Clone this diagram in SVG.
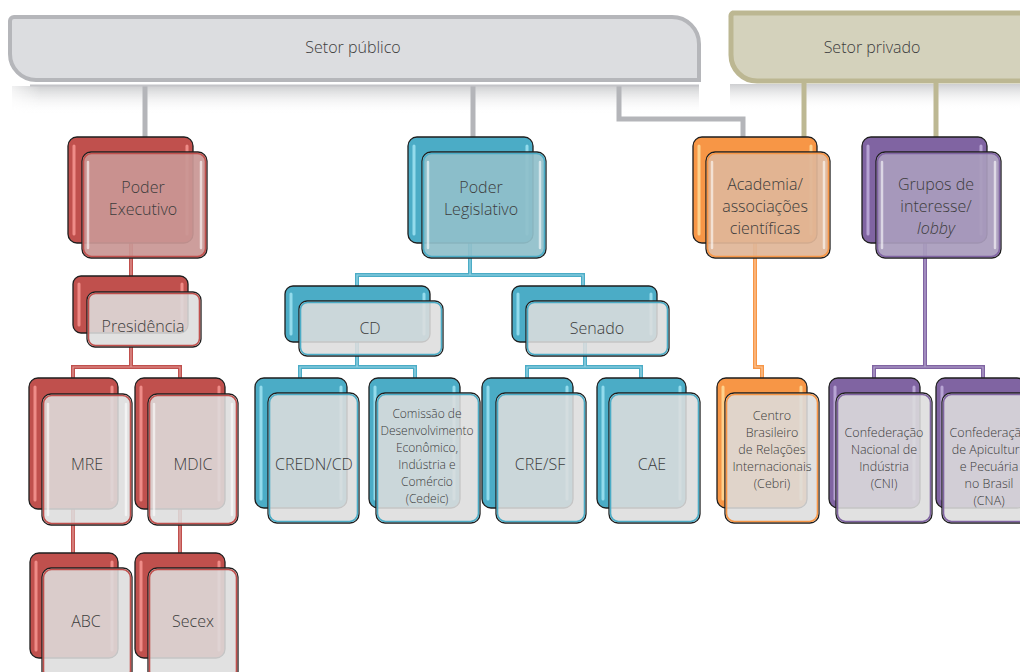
<svg xmlns="http://www.w3.org/2000/svg" width="1020" height="672" viewBox="0 0 1020 672">
<defs>
<linearGradient id="shadowG" x1="0" y1="0" x2="0" y2="1">
<stop offset="0" stop-color="#b9babd" stop-opacity="0.7"/>
<stop offset="1" stop-color="#ffffff" stop-opacity="0"/>
</linearGradient>
<linearGradient id="shadowH" x1="0" y1="0" x2="1" y2="0">
<stop offset="0" stop-color="#fff" stop-opacity="0"/>
<stop offset="0.04" stop-color="#fff" stop-opacity="1"/>
<stop offset="1" stop-color="#fff" stop-opacity="1"/>
</linearGradient>
<mask id="shMask"><rect x="0" y="0" width="1020" height="672" fill="url(#shadowH)"/></mask>
</defs>
<style>
text{font-family:"Open Sans","Liberation Sans",sans-serif;font-weight:300;fill:#3c3c3c;text-anchor:middle}
.t16{font-size:16px}
.t13{font-size:12.5px}
.t12{font-size:12px}
.back{stroke:#1e1e1e;stroke-width:1.3}
.front{stroke:#1e1e1e;stroke-width:1.3}
.inner{fill:none;stroke-width:1.6}
.fhl{stroke:#ffffff;stroke-opacity:0.6;stroke-width:2.5;stroke-linecap:round}
.bhl{stroke-width:3;stroke-linecap:round}
.red .back{fill:#c0504d}.red .inner{stroke:#c0504d}.red .bhl{stroke:#ef8c88}
.teal .back{fill:#4bacc6}.teal .inner{stroke:#4bacc6}.teal .bhl{stroke:#93dbec}
.orange .back{fill:#f79646}.orange .inner{stroke:#f79646}.orange .bhl{stroke:#fdd28e}
.purple .back{fill:#8064a2}.purple .inner{stroke:#8064a2}.purple .bhl{stroke:#b7a4d3}
.low .front{fill:#dddddd;fill-opacity:0.88}
.red.top .front{fill:#c99795;fill-opacity:0.93}
.teal.top .front{fill:#90bfca;fill-opacity:0.93}
.orange.top .front{fill:#e0b698;fill-opacity:0.93}
.purple.top .front{fill:#a99cbc;fill-opacity:0.93}
.cg{fill:none;stroke:#b4b5b9;stroke-width:5}
.cp{fill:none;stroke:#bdb893;stroke-width:5}
.cl{fill:none;stroke-width:4}
.cc{fill:none;stroke-width:1.2}
</style>

<!-- banner shadows -->
<rect x="12" y="86" width="687" height="28" fill="url(#shadowG)" mask="url(#shMask)"/>
<rect x="730" y="84" width="290" height="26" fill="url(#shadowG)"/>

<g id="connectors">
<path class="cg" d="M145,86V137M473,86V137M619,86V119H743V137"/>
<path class="cp" d="M804,82V137M936,82V137"/>
<g stroke="#c0504d"><path class="cl" d="M131,243V276M131,347V367M73,378V367H180V378M73,509V553M180,509V553"/></g>
<g stroke="#e39a97"><path class="cc" d="M131,243V276M131,347V367M73,378V367H180V378M73,509V553M180,509V553"/></g>
<g stroke="#4bacc6"><path class="cl" d="M470,243V275M357,286V275H583V286M357,342V367M300,378V367H415V378M585,342V367M527,378V367H641V378"/></g>
<g stroke="#9bd6e6"><path class="cc" d="M470,243V275M357,286V275H583V286M357,342V367M300,378V367H415V378M585,342V367M527,378V367H641V378"/></g>
<g stroke="#f79646"><path class="cl" d="M755,243V367H762V378"/></g>
<g stroke="#fcc79a"><path class="cc" d="M755,243V367H762V378"/></g>
<g stroke="#8064a2"><path class="cl" d="M925,243V367M874,378V367H983V378"/></g>
<g stroke="#b6a6d0"><path class="cc" d="M925,243V367M874,378V367H983V378"/></g>
</g>

<g id="setor-publico">
<path d="M14,17H672A27,27 0 0 1 699,44V80H36A26,26 0 0 1 10,54V21A4,4 0 0 1 14,17Z" fill="#dcdde0" stroke="#b5b6ba" stroke-width="4"/>
<path d="M30,85.5H699" stroke="#c3c4c8" stroke-width="2"/>
<text class="t16" x="353" y="53">Setor público</text>
</g>

<g id="setor-privado">
<path d="M733,13H1040V81H757A26,26 0 0 1 731,55V17A4,4 0 0 1 733,13Z" fill="#d4d2bc" stroke="#bcb792" stroke-width="5"/>
<text class="t16" x="872" y="53">Setor privado</text>
</g>

<g id="poder-executivo" class="red top">
<rect class="back" x="68" y="137" width="125" height="106" rx="9"/>
<path class="bhl" d="M74,146V234M187,146V234"/>
<rect class="front" x="82" y="152" width="125" height="106" rx="9"/>
<rect class="inner" x="83.5" y="153.5" width="122" height="103" rx="8"/>
<path class="fhl" d="M88,162V248M201,162V248"/>
<text class="t16" x="143" y="193">Poder</text>
<text class="t16" x="143" y="215">Executivo</text>
</g>

<g id="poder-legislativo" class="teal top">
<rect class="back" x="408" y="137" width="125" height="106" rx="9"/>
<path class="bhl" d="M414,146V234M527,146V234"/>
<rect class="front" x="422" y="152" width="124" height="106" rx="9"/>
<rect class="inner" x="423.5" y="153.5" width="121" height="103" rx="8"/>
<path class="fhl" d="M428,162V248M540,162V248"/>
<text class="t16" x="481" y="193">Poder</text>
<text class="t16" x="481" y="215">Legislativo</text>
</g>

<g id="academia" class="orange top">
<rect class="back" x="693" y="137" width="124" height="106" rx="9"/>
<path class="bhl" d="M699,146V234M811,146V234"/>
<rect class="front" x="706" y="152" width="124" height="106" rx="9"/>
<rect class="inner" x="707.5" y="153.5" width="121" height="103" rx="8"/>
<path class="fhl" d="M712,162V248M824,162V248"/>
<text class="t16" x="765" y="190">Academia/</text>
<text class="t16" x="765" y="212">associações</text>
<text class="t16" x="765" y="234">científicas</text>
</g>

<g id="grupos-interesse" class="purple top">
<rect class="back" x="862" y="137" width="125" height="106" rx="9"/>
<path class="bhl" d="M868,146V234M981,146V234"/>
<rect class="front" x="876" y="152" width="125" height="106" rx="9"/>
<rect class="inner" x="877.5" y="153.5" width="122" height="103" rx="8"/>
<path class="fhl" d="M882,162V248M995,162V248"/>
<text class="t16" x="936" y="190">Grupos de</text>
<text class="t16" x="936" y="212">interesse/</text>
<text class="t16" x="936" y="234" font-style="italic">lobby</text>
</g>

<g id="presidencia" class="red low">
<rect class="back" x="73" y="276" width="115" height="57" rx="8"/>
<path class="bhl" d="M79,284V325M182,284V325"/>
<rect class="front" x="87" y="292" width="114" height="55" rx="8"/>
<rect class="inner" x="88.5" y="293.5" width="111" height="52" rx="7"/>
<text class="t16" x="143" y="332">Presidência</text>
</g>

<g id="cd" class="teal low">
<rect class="back" x="285" y="286" width="145" height="56" rx="8"/>
<path class="bhl" d="M291,294V334M424,294V334"/>
<rect class="front" x="299" y="301" width="144" height="55" rx="8"/>
<rect class="inner" x="300.5" y="302.5" width="141" height="52" rx="7"/>
<text class="t16" x="370" y="334">CD</text>
</g>

<g id="senado" class="teal low">
<rect class="back" x="512" y="286" width="145" height="56" rx="8"/>
<path class="bhl" d="M518,294V334M651,294V334"/>
<rect class="front" x="526" y="301" width="143" height="55" rx="8"/>
<rect class="inner" x="527.5" y="302.5" width="140" height="52" rx="7"/>
<text class="t16" x="597" y="334">Senado</text>
</g>

<g id="mre" class="red low">
<rect class="back" x="29" y="378" width="89" height="131" rx="9"/>
<path class="bhl" d="M35,387V500M112,387V500"/>
<rect class="front" x="42" y="394" width="90" height="131" rx="9"/>
<rect class="inner" x="43.5" y="395.5" width="87" height="128" rx="8"/>
<path class="fhl" d="M48,404V515M126,404V515" stroke-opacity="0.4"/>
<text class="t16" x="87" y="470">MRE</text>
</g>

<g id="mdic" class="red low">
<rect class="back" x="135" y="378" width="90" height="131" rx="9"/>
<path class="bhl" d="M141,387V500M219,387V500"/>
<rect class="front" x="148" y="394" width="90" height="131" rx="9"/>
<rect class="inner" x="149.5" y="395.5" width="87" height="128" rx="8"/>
<path class="fhl" d="M154,404V515M232,404V515" stroke-opacity="0.4"/>
<text class="t16" x="193" y="470">MDIC</text>
</g>

<g id="abc" class="red low">
<rect class="back" x="30" y="553" width="88" height="105" rx="9"/>
<path class="bhl" d="M36,562V650M112,562V650"/>
<rect class="front" x="42" y="568" width="90" height="112" rx="9"/>
<rect class="inner" x="43.5" y="569.5" width="87" height="109" rx="8"/>
<text class="t16" x="86" y="627">ABC</text>
</g>

<g id="secex" class="red low">
<rect class="back" x="135" y="553" width="90" height="105" rx="9"/>
<path class="bhl" d="M141,562V650M219,562V650"/>
<rect class="front" x="148" y="568" width="90" height="112" rx="9"/>
<rect class="inner" x="149.5" y="569.5" width="87" height="109" rx="8"/>
<text class="t16" x="193" y="627">Secex</text>
</g>

<g id="credn-cd" class="teal low">
<rect class="back" x="255" y="378" width="92" height="130" rx="9"/>
<path class="bhl" d="M261,387V499M341,387V499"/>
<rect class="front" x="268" y="393" width="91" height="130" rx="9"/>
<rect class="inner" x="269.5" y="394.5" width="88" height="127" rx="8"/>
<text class="t16" x="314" y="470">CREDN/CD</text>
</g>

<g id="cedeic" class="teal low">
<rect class="back" x="369" y="378" width="91" height="130" rx="9"/>
<path class="bhl" d="M375,387V499M454,387V499"/>
<rect class="front" x="376" y="393" width="104" height="130" rx="9"/>
<rect class="inner" x="377.5" y="394.5" width="101" height="127" rx="8"/>
<text class="t12" x="427" y="418">Comissão de</text>
<text class="t12" x="427" y="435">Desenvolvimento</text>
<text class="t12" x="427" y="452">Econômico,</text>
<text class="t12" x="427" y="469">Indústria e</text>
<text class="t12" x="427" y="486">Comércio</text>
<text class="t12" x="427" y="503">(Cedeic)</text>
</g>

<g id="cre-sf" class="teal low">
<rect class="back" x="482" y="378" width="91" height="130" rx="9"/>
<path class="bhl" d="M488,387V499M567,387V499"/>
<rect class="front" x="496" y="393" width="90" height="130" rx="9"/>
<rect class="inner" x="497.5" y="394.5" width="87" height="127" rx="8"/>
<text class="t16" x="540" y="470">CRE/SF</text>
</g>

<g id="cae" class="teal low">
<rect class="back" x="597" y="378" width="89" height="130" rx="9"/>
<path class="bhl" d="M603,387V499M680,387V499"/>
<rect class="front" x="609" y="393" width="91" height="130" rx="9"/>
<rect class="inner" x="610.5" y="394.5" width="88" height="127" rx="8"/>
<text class="t16" x="652" y="470">CAE</text>
</g>

<g id="cebri" class="orange low">
<rect class="back" x="717" y="378" width="90" height="130" rx="9"/>
<path class="bhl" d="M723,387V499M801,387V499"/>
<rect class="front" x="725" y="393" width="94" height="130" rx="9"/>
<rect class="inner" x="726.5" y="394.5" width="91" height="127" rx="8"/>
<text class="t13" x="772" y="420">Centro</text>
<text class="t13" x="772" y="437">Brasileiro</text>
<text class="t13" x="772" y="454">de Relações</text>
<text class="t13" x="772" y="471">Internacionais</text>
<text class="t13" x="772" y="488">(Cebri)</text>
</g>

<g id="cni" class="purple low">
<rect class="back" x="829" y="378" width="91" height="130" rx="9"/>
<path class="bhl" d="M835,387V499M914,387V499"/>
<rect class="front" x="836" y="393" width="96" height="130" rx="9"/>
<rect class="inner" x="837.5" y="394.5" width="93" height="127" rx="8"/>
<text class="t13" x="884" y="437">Confederação</text>
<text class="t13" x="884" y="454">Nacional de</text>
<text class="t13" x="884" y="471">Indústria</text>
<text class="t13" x="884" y="488">(CNI)</text>
</g>

<g id="cna" class="purple low">
<rect class="back" x="936" y="378" width="90" height="130" rx="9"/>
<path class="bhl" d="M942,387V499"/>
<rect class="front" x="942" y="393" width="92" height="130" rx="9"/>
<rect class="inner" x="943.5" y="394.5" width="89" height="127" rx="8"/>
<text class="t13" x="989" y="437">Confederação</text>
<text class="t13" x="989" y="454">de Apicultura</text>
<text class="t13" x="989" y="471">e Pecuária</text>
<text class="t13" x="989" y="488">no Brasil</text>
<text class="t13" x="989" y="505">(CNA)</text>
</g>
</svg>
